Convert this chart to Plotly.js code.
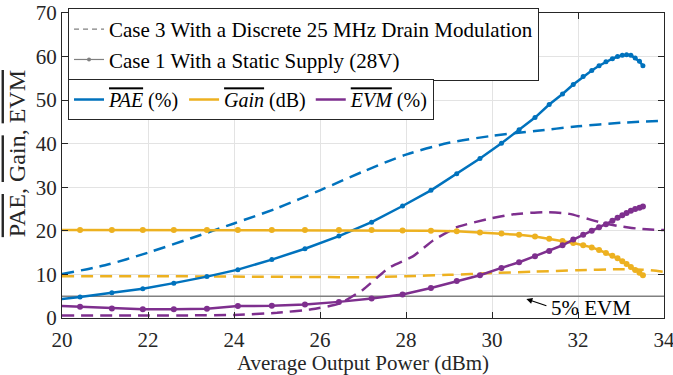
<!DOCTYPE html>
<html><head><meta charset="utf-8">
<script src="https://cdn.plot.ly/plotly-3.0.1.min.js"></script>
<style>html,body{margin:0;padding:0;background:#fff}#chart{width:673px;height:375px}</style>
</head><body><div id="chart"></div>
<script>
// Case 1 – static supply (28 V): measured points
const case1Power = [19.68, 20.42, 21.16, 21.88, 22.6, 23.37, 24.09, 24.88, 25.65, 26.44, 27.2, 27.92, 28.58, 29.18, 29.72, 30.22, 30.63, 31.0, 31.33, 31.64, 31.89, 32.12, 32.32, 32.49, 32.65, 32.80, 32.92, 33.03, 33.13, 33.23, 33.33, 33.43, 33.51];
const case1PAE = [4.0, 4.8, 5.8, 6.7, 8.0, 9.5, 11.1, 13.4, 15.9, 18.8, 22.0, 25.7, 29.3, 33.1, 36.6, 40.1, 43.2, 46.0, 49.0, 51.4, 53.6, 55.4, 56.8, 57.9, 58.8, 59.5, 60.0, 60.3, 60.4, 60.3, 59.7, 58.9, 57.9];
const case1Gain = [20.2, 20.2, 20.2, 20.2, 20.2, 20.2, 20.2, 20.2, 20.2, 20.2, 20.2, 20.1, 20.05, 19.9, 19.6, 19.4, 19.1, 18.7, 18.2, 17.7, 17.2, 16.7, 16.2, 15.6, 14.9, 14.3, 13.7, 13.0, 12.4, 11.7, 11.0, 10.4, 9.8];
const case1EVM = [2.9, 2.6, 2.2, 2.0, 2.0, 2.1, 2.75, 2.8, 3.1, 3.7, 4.5, 5.4, 6.9, 8.5, 9.8, 11.5, 12.8, 14.2, 15.4, 16.7, 18.0, 19.1, 20.0, 20.8, 21.5, 22.3, 23.0, 23.6, 24.1, 24.6, 25.0, 25.3, 25.6];

// Case 3 – discrete 25 MHz drain modulation
const case3PAEPower = [20, 21, 22, 23, 24, 25, 26, 27, 28, 29, 30, 31, 32, 33, 34];
const case3PAE = [10.1, 12.1, 15.0, 18.3, 21.7, 25.2, 29.3, 33.6, 37.5, 40.2, 41.8, 42.9, 44.0, 44.8, 45.3];
const case3GainPower = [20, 22, 24, 26, 27, 28, 29, 30, 31, 32, 33, 33.5, 34];
const case3Gain = [9.6, 9.6, 9.5, 9.4, 9.35, 9.6, 9.9, 10.3, 10.65, 10.95, 11.2, 11.1, 10.6];
const case3EVMPower = [20, 22, 23, 24, 25, 25.8, 26.45, 27, 27.6, 28.17, 28.63, 29.2, 29.95, 30.5, 31.2, 31.8, 32.5, 33, 33.5, 34];
const case3EVM = [0.6, 0.6, 0.6, 0.7, 1.2, 2.0, 3.3, 6.5, 11.5, 14.2, 17.8, 20.9, 22.8, 23.8, 24.3, 23.9, 22.0, 21.0, 20.4, 20.2];

// 5% EVM limit
const limitPower = [20, 34];
const limitEVM = [5, 5];

const xTicks = [20, 22, 24, 26, 28, 30, 32, 34];
const yTicks = [0, 10, 20, 30, 40, 50, 60, 70];

const BLUE = '#0072BD', YEL = '#EDB120', PUR = '#7E2F8E', GRAY = '#808080';
const FONT = 'Liberation Serif, Times New Roman, serif';
const DASH = '12px,7px';
const ol = s => '<span style="text-decoration:overline">' + s + '</span>';

const traces = [
  {x: limitPower, y: limitEVM, mode: 'lines', line: {color: GRAY, width: 1.5}, showlegend: false, hoverinfo: 'skip'},
  {x: case3PAEPower, y: case3PAE, mode: 'lines', line: {color: BLUE, width: 2.5, dash: DASH, shape: 'spline', smoothing: 0.8}, showlegend: false},
  {x: case3GainPower, y: case3Gain, mode: 'lines', line: {color: YEL, width: 2.5, dash: DASH, shape: 'spline', smoothing: 0.8}, showlegend: false},
  {x: case3EVMPower, y: case3EVM, mode: 'lines', line: {color: PUR, width: 2.5, dash: DASH, shape: 'spline', smoothing: 0.5}, showlegend: false},
  {x: case1Power, y: case1PAE, mode: 'lines+markers', line: {color: BLUE, width: 2.5}, marker: {color: BLUE, size: 5}, showlegend: false},
  {x: case1Power, y: case1Gain, mode: 'lines+markers', line: {color: YEL, width: 2.5}, marker: {color: YEL, size: 6}, showlegend: false},
  {x: case1Power, y: case1EVM, mode: 'lines+markers', line: {color: PUR, width: 2.5}, marker: {color: PUR, size: 6}, showlegend: false},
  // legend-only entries
  {x: [null], y: [null], mode: 'lines', name: 'Case 3 With a Discrete 25 MHz Drain Modulation', line: {color: GRAY, width: 1.2, dash: '5px,4px'}, legend: 'legend'},
  {x: [null], y: [null], mode: 'lines+markers', name: 'Case 1 With a Static Supply (28V)', line: {color: GRAY, width: 1.2}, marker: {color: GRAY, size: 4}, legend: 'legend'},
  {x: [null], y: [null], mode: 'lines', name: ol('<i>PAE</i>') + ' (%)', line: {color: BLUE, width: 2.5}, legend: 'legend2'},
  {x: [null], y: [null], mode: 'lines', name: ol('<i>Gain</i>') + ' (dB)', line: {color: YEL, width: 2.5}, legend: 'legend2'},
  {x: [null], y: [null], mode: 'lines', name: ol('<i>EVM</i>') + ' (%)', line: {color: PUR, width: 2.5}, legend: 'legend2'}
];

const axisCommon = {
  showline: true, linecolor: '#262626', linewidth: 1, mirror: 'allticks',
  ticks: 'inside', ticklen: 6, tickcolor: '#262626',
  showgrid: true, gridcolor: '#e3e3e3', gridwidth: 1, zeroline: false,
  ticklabeloverflow: 'allow',
  tickfont: {family: FONT, size: 21, color: '#262626'}
};

const layout = {
  width: 673, height: 375,
  margin: {l: 62, r: 9, t: 12, b: 57},
  paper_bgcolor: '#fff', plot_bgcolor: '#fff',
  font: {family: FONT, color: '#262626'},
  xaxis: Object.assign({}, axisCommon, {
    range: [20, 34], tickvals: xTicks, ticktext: xTicks.map(String),
    ticklabelstandoff: 3,
    title: {text: 'Average Output Power (dBm)', font: {family: FONT, size: 21, color: '#262626'}, standoff: 0}
  }),
  yaxis: Object.assign({}, axisCommon, {
    range: [0, 70], tickvals: yTicks, ticktext: yTicks.map(String)
  }),
  legend: {
    x: 0.01, y: 1.013, xanchor: 'left', yanchor: 'top',
    bgcolor: '#fff', bordercolor: '#262626', borderwidth: 1,
    font: {family: FONT, size: 21, color: '#000'}, tracegroupgap: 0, itemwidth: 30
  },
  legend2: {
    x: 0.01, y: 0.781, xanchor: 'left', yanchor: 'top', orientation: 'h',
    bgcolor: '#fff', bordercolor: '#262626', borderwidth: 1,
    font: {family: FONT, size: 20, color: '#000'}, itemwidth: 30
  },
  annotations: [
    {x: -0.075, y: 0.54, xref: 'paper', yref: 'paper', text: ol('PAE') + ', ' + ol('Gain') + ', ' + ol('EVM'), textangle: -90, showarrow: false, xanchor: 'center', yanchor: 'middle', font: {family: FONT, size: 24, color: '#262626'}},
    {x: 30.8, y: 4.35, ax: 31.3, ay: 2.7, xref: 'x', yref: 'y', axref: 'x', ayref: 'y', text: '', showarrow: true, arrowhead: 2, arrowsize: 1, arrowwidth: 1.2, arrowcolor: '#000'},
    {x: 31.33, y: 2.2, xref: 'x', yref: 'y', text: '5% EVM', showarrow: false, xanchor: 'left', yanchor: 'middle', font: {family: FONT, size: 21, color: '#000'}}
  ],
  showlegend: true
};

Plotly.newPlot('chart', traces, layout, {staticPlot: true, displayModeBar: false});
</script>
</body></html>
